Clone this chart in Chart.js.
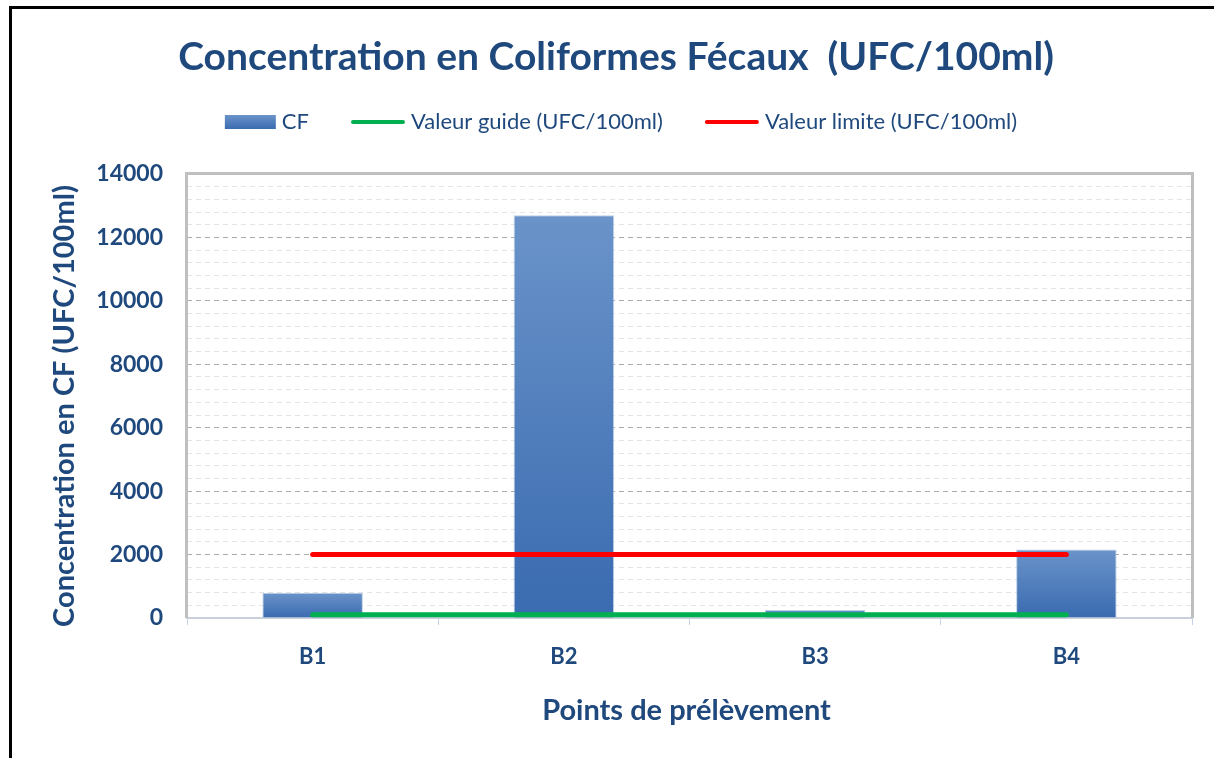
<!DOCTYPE html>
<html>
<head>
<meta charset="utf-8">
<title>Concentration en Coliformes Fécaux</title>
<script src="https://cdn.jsdelivr.net/npm/chart.js@4.4.1/dist/chart.umd.min.js"></script>
<style>
  html, body { margin: 0; padding: 0; background: #fff; }
  #wrap { width: 1214px; height: 758px; }
</style>
</head>
<body>
<div id="wrap"><canvas id="cf-chart" width="1214" height="758"></canvas></div>
<script>
// Coliformes fécaux par point de prélèvement + valeurs guide / limite.
var points = ['B1', 'B2', 'B3', 'B4'];
var cfValues = [800, 12700, 250, 2160];
var guideValues = [100, 100, 100, 100];
var limitValues = [2000, 2000, 2000, 2000];

var yMax = 14000;
var yMajorStep = 2000;   // labelled gridlines
var yMinorStep = 400;    // light in-between gridlines

var titleText = 'Concentration en Coliformes Fécaux  (UFC/100ml)';
var xTitleText = 'Points de prélèvement';
var yTitleText = 'Concentration en CF (UFC/100ml)';

var NAVY = '#1F497D';
var FONT = 'Lato, Carlito, Calibri, sans-serif';

function barFill(ctx) {
  var chart = ctx.chart;
  if (!chart.chartArea || ctx.type !== 'data') return '#4F81BD';
  var y = chart.scales.y;
  var top = y.getPixelForValue(ctx.raw);
  var base = y.getPixelForValue(0);
  var g = chart.ctx.createLinearGradient(0, top, 0, base);
  g.addColorStop(0, '#6A93C9');
  g.addColorStop(1, '#3A6BB0');
  return g;
}

// frame, title, legend and axis titles
var decor = {
  id: 'decor',
  beforeDraw: function (chart) {
    var c = chart.ctx;
    c.save();
    c.fillStyle = '#fff';
    c.fillRect(0, 0, chart.width, chart.height);
    c.fillStyle = '#000';
    c.fillRect(9, 6, chart.width - 9, 3);
    c.fillRect(9, 6, 3, chart.height - 6);
    c.restore();
  },
  beforeDatasetsDraw: function (chart) {
    var a = chart.chartArea, c = chart.ctx;
    c.save();
    c.strokeStyle = '#BFBFBF';
    c.lineWidth = 3;
    c.beginPath();
    c.moveTo(a.left - 0.5, a.bottom);
    c.lineTo(a.left - 0.5, a.top - 0.5);
    c.lineTo(a.right + 0.5, a.top - 0.5);
    c.lineTo(a.right + 0.5, a.bottom);
    c.stroke();
    c.restore();
  },
  afterDraw: function (chart) {
    var a = chart.chartArea, c = chart.ctx;
    c.save();
    c.fillStyle = NAVY;

    c.font = 'bold 39px ' + FONT;
    c.textAlign = 'center';
    c.textBaseline = 'alphabetic';
    c.fillText(titleText, 616, 70);

    // legend
    c.font = '22px ' + FONT;
    c.textAlign = 'left';
    var items = chart.data.datasets.map(function (ds) {
      var w = (ds.type === 'line' ? 54 : 51);
      return { ds: ds, sym: w, text: c.measureText(ds.label).width };
    });
    var total = 0;
    items.forEach(function (it, i) { total += it.sym + 6 + it.text + (i ? 42 : 0); });
    var x = 621 - total / 2, ly = 122;
    items.forEach(function (it) {
      if (it.ds.type === 'line') {
        c.strokeStyle = it.ds.borderColor;
        c.lineWidth = 4;
        c.lineCap = 'round';
        c.beginPath();
        c.moveTo(x + 2, ly);
        c.lineTo(x + it.sym - 2, ly);
        c.stroke();
      } else {
        var g = c.createLinearGradient(0, ly - 7, 0, ly + 7);
        g.addColorStop(0, '#6A93C9');
        g.addColorStop(1, '#3A6BB0');
        c.fillStyle = g;
        c.fillRect(x, ly - 7, it.sym, 14);
      }
      x += it.sym + 6;
      c.fillStyle = NAVY;
      c.fillText(it.ds.label, x, 129);
      x += it.text + 42;
    });

    c.font = 'bold 29px ' + FONT;
    c.textAlign = 'center';
    c.textBaseline = 'middle';
    c.fillText(xTitleText, (a.left + a.right) / 2 - 3, 711);

    c.translate(65, (a.top + a.bottom) / 2 + 10);
    c.rotate(-Math.PI / 2);
    c.fillText(yTitleText, 0, 0);
    c.restore();
  }
};

new Chart(document.getElementById('cf-chart'), {
  type: 'bar',
  data: {
    labels: points,
    datasets: [
      {
        type: 'bar',
        label: 'CF',
        data: cfValues,
        backgroundColor: barFill,
        borderColor: 'rgba(160, 188, 224, 0.7)',
        borderWidth: 1,
        categoryPercentage: 0.8,
        barPercentage: 0.5,
        order: 1
      },
      {
        type: 'line',
        label: 'Valeur guide (UFC/100ml)',
        data: guideValues,
        borderColor: '#00B050',
        borderWidth: 5,
        borderCapStyle: 'round',
        pointRadius: 0,
        order: 0
      },
      {
        type: 'line',
        label: 'Valeur limite (UFC/100ml)',
        data: limitValues,
        borderColor: '#FF0000',
        borderWidth: 5,
        borderCapStyle: 'round',
        pointRadius: 0,
        order: 0
      }
    ]
  },
  options: {
    responsive: false,
    animation: false,
    layout: { padding: { top: 174, right: 22, bottom: 0, left: 0 } },
    plugins: {
      legend: { display: false },
      title: { display: false },
      tooltip: { enabled: false }
    },
    scales: {
      x: {
        afterFit: function (s) { s.height = 140; },
        grid: {
          drawOnChartArea: false,
          drawTicks: true,
          tickLength: 7,
          tickColor: '#C6D4EA',
          tickWidth: 1
        },
        border: { color: '#C9D0DC', width: 2 },
        ticks: {
          padding: 19,
          color: NAVY,
          font: { family: FONT, size: 22, weight: 'bold' }
        }
      },
      y: {
        min: 0,
        max: yMax,
        afterFit: function (s) { s.width = 187; },
        border: { display: false, dash: [5, 4] },
        grid: {
          drawTicks: false,
          lineWidth: 1,
          color: function (ctx) {
            var v = ctx.tick.value;
            if (v === 0 || v === yMax) return 'rgba(0,0,0,0)';
            return v % yMajorStep === 0 ? '#ABABAB' : '#E4E4E4';
          }
        },
        ticks: {
          stepSize: yMinorStep,
          autoSkip: false,
          padding: 24,
          color: NAVY,
          font: { family: FONT, size: 23, weight: 'bold' },
          callback: function (v) { return v % yMajorStep === 0 ? String(v) : ''; }
        }
      }
    }
  },
  plugins: [decor]
});
</script>
</body>
</html>
